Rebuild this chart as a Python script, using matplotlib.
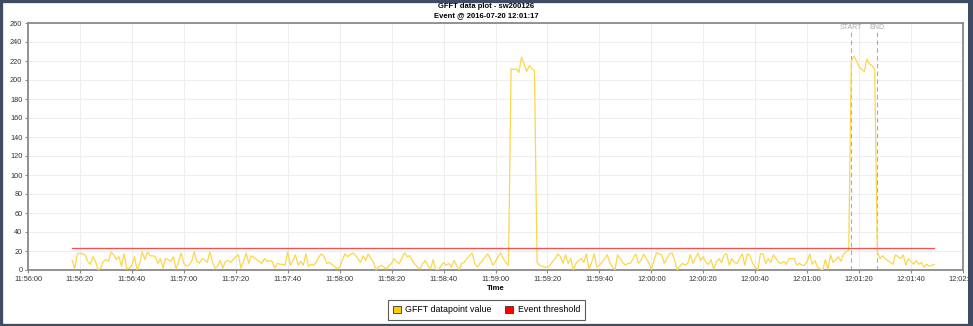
import numpy as np
import matplotlib
matplotlib.use("Agg")
import matplotlib.pyplot as plt
import matplotlib.dates as mdates
from matplotlib.patches import Patch, Rectangle
from datetime import datetime, timedelta

plt.rcParams['font.family'] = ['Liberation Sans', 'DejaVu Sans']

# one GFFT value per second, starting 11:56:17
t_start = datetime(2016, 7, 20, 11, 56, 17)
pre_event = [10, 1, 17, 18, 17, 16, 9, 6, 14, 9, 0, 2, 9, 11, 9, 19, 16, 11, 14, 4,
             17, 1, 2, 5, 14, 0, 7, 19, 11, 19, 15, 15, 14, 7, 12, 2, 12, 11, 9, 14,
             1, 9, 18, 7, 4, 5, 9, 19, 9, 7, 12, 11, 8, 19, 9, 2, 4, 10, 2, 9,
             10, 8, 11, 14, 16, 2, 9, 18, 7, 15, 13, 11, 9, 7, 12, 9, 10, 9, 2, 7,
             6, 6, 5, 19, 5, 10, 16, 5, 9, 5, 17, 4, 6, 5, 8, 14, 17, 14, 7, 8,
             6, 4, 1, 3, 10, 17, 14, 16, 18, 16, 12, 8, 15, 10, 17, 12, 8, 0, 3, 5,
             3, 1, 5, 7, 12, 8, 7, 13, 18, 14, 15, 10, 6, 3, 1, 7, 10, 5, 1, 11,
             0, 0, 4, 8, 5, 7, 3, 10, 5, 0, 7, 8, 12, 15, 18, 7, 3, 7, 10, 14,
             17, 12, 5, 9, 14, 18, 12, 8, 5]
spike_1 = [212, 211, 212, 208, 224, 217, 209, 215, 212, 210]
mid_a = [8, 5, 4, 3, 3, 5, 9, 12, 17, 14, 7, 16, 7, 12, 0, 7, 10, 12, 8, 17,
         1, 8, 17, 3, 5, 8, 12, 16, 8, 3, 0, 16, 12, 8, 5, 7, 7, 12, 17, 7, 10]
mid_b = [17, 12, 8, 0, 10, 18, 17, 16, 7, 12, 17, 18, 10, 0, 4, 7, 5, 7, 16, 7,
         13, 18, 10, 14, 8, 6, 11, 1, 8, 12, 8, 16, 17, 5, 12, 8, 7, 12, 17, 5,
         17, 15, 7, 3, 0, 17, 17, 7, 12, 8, 16, 12, 8, 7, 9, 6, 12, 12, 12, 5,
         7, 5, 5, 9, 17, 6, 10, 3, 1, 0, 11, 1, 16, 8, 11, 14, 9, 17, 19, 21]
spike_2 = [220, 225, 220, 214, 211, 209, 222, 217, 215, 211]
post_event = [19, 12, 15, 12, 10, 8, 6, 16, 14, 12, 16, 5, 12, 9, 6, 10, 6, 8, 3, 6,
              4, 5, 6]
threshold = 23
event_start = datetime(2016, 7, 20, 12, 1, 17)
event_end = datetime(2016, 7, 20, 12, 1, 27)

values = pre_event + spike_1 + mid_a + mid_b + spike_2 + post_event
times = [t_start + timedelta(seconds=i) for i in range(len(values))]

fig = plt.figure(figsize=(9.73, 3.26), dpi=100)
ax = fig.add_axes([28/973, 56/326, 935/973, 247/326])

ax.plot(times, values, color='#fcd64c', lw=0.9, zorder=3)
ax.plot([times[0], times[-1]], [threshold, threshold], color='#ff4c4c', lw=0.9, zorder=3)

for t, lab in [(event_start, 'START'), (event_end, 'END')]:
    ax.plot([t, t], [0, 252], color='#aaaaaa', lw=0.8, ls=(0, (4, 3)), zorder=2)
    ax.text(t, 255, lab, color='#aaaaaa', fontsize=5, ha='center', va='center')

ax.set_xlim(datetime(2016, 7, 20, 11, 56, 0), datetime(2016, 7, 20, 12, 2, 0))
ax.set_ylim(0, 260)
ax.xaxis.set_major_locator(mdates.SecondLocator(bysecond=[0, 20, 40]))
ax.xaxis.set_major_formatter(mdates.DateFormatter('%H:%M:%S'))
ax.set_yticks(range(0, 261, 20))
ax.grid(True, color='#eeeeee', lw=0.8)
ax.set_axisbelow(True)
ax.tick_params(labelsize=5.3, colors='#333333', length=2.5, width=0.8, pad=1.5)
ax.tick_params(color='#888888')
for s in ax.spines.values():
    s.set_color('#8a8a8a')
    s.set_linewidth(1.3)
ax.set_xlabel('Time', fontsize=5.5, fontweight='bold', labelpad=1.5)

fig.text(0.5, 0.9795, 'GFFT data plot - sw200126', ha='center', va='center',
         fontsize=5.5, fontweight='bold')
fig.text(0.5, 0.9525, 'Event @ 2016-07-20 12:01:17', ha='center', va='center',
         fontsize=5.5, fontweight='bold')

handles = [Patch(facecolor='#ffcc00', edgecolor='#333333', lw=0.6, label='GFFT datapoint value'),
           Patch(facecolor='#ff0000', edgecolor='#333333', lw=0.6, label='Event threshold')]
leg = fig.legend(handles=handles, loc='lower center', bbox_to_anchor=(0.5, 0.006), ncol=2,
                 fontsize=6.4, frameon=True, fancybox=False, handlelength=0.9, handleheight=0.9,
                 handletextpad=0.5, columnspacing=1.5, borderpad=0.6)
leg.get_frame().set_edgecolor('#333333')
leg.get_frame().set_linewidth(0.8)

fig.patches.append(Rectangle((0, 0), 1, 1, transform=fig.transFigure, fill=False,
                             ec='#3d4b63', lw=3.8))
fig.patches.append(Rectangle((968/973, 0), 5/973, 1, transform=fig.transFigure,
                             fc='#3d4b63', ec='none', zorder=10))

fig.savefig('out.png', dpi=100)
